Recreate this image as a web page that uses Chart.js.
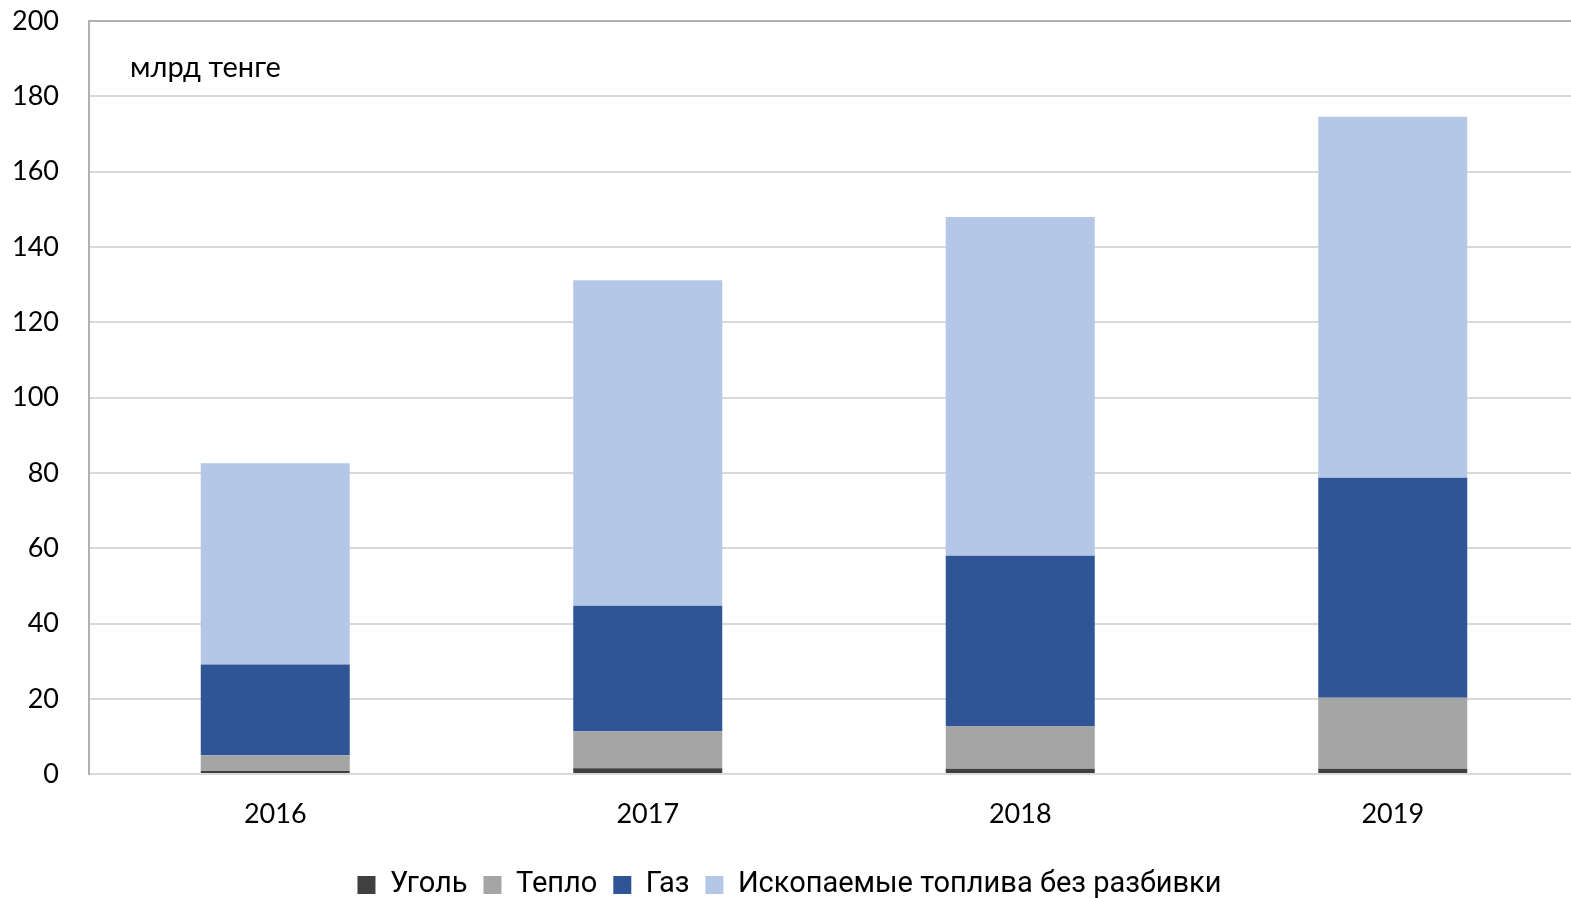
<!DOCTYPE html>
<html>
<head>
<meta charset="utf-8">
<script src="https://cdn.jsdelivr.net/npm/chart.js@4.4.1/dist/chart.umd.min.js"></script>
<style>
  html, body { margin:0; padding:0; background:#fff; overflow:hidden; }
  #wrap { position:relative; width:1582px; height:934.5px; margin-top:-25.5px; }
</style>
</head>
<body>
<div id="wrap"><canvas id="chart"></canvas></div>
<script>
// ---- data ----
const years      = ['2016','2017','2018','2019'];
const coal       = [0.85, 1.55, 1.4, 1.4];
const heat       = [4.15, 9.85, 11.4, 18.9];
const gas        = [24.1, 33.3, 45.2, 58.4];
const fossilOther= [53.5, 86.5, 90.0, 95.9];
const unitLabel  = 'млрд тенге';

const FONT = "Roboto, 'Open Sans', sans-serif";
const TICKFONT = "Lato, 'Open Sans', sans-serif";

// unit caption inside the plot area
const unitPlugin = {
  id: 'unit',
  afterDraw(chart){
    const {ctx, chartArea} = chart;
    ctx.save();
    ctx.font = "29px " + TICKFONT;
    ctx.fillStyle = '#000';
    ctx.textBaseline = 'middle';
    ctx.fillText(unitLabel, chartArea.left + 41, chartArea.top + 46);
    ctx.restore();
  }
};

const ds = (label, data, color) => ({
  label, data, backgroundColor: color, borderWidth: 0,
  barPercentage: 0.4, categoryPercentage: 1
});

new Chart(document.getElementById('chart'), {
  type: 'bar',
  data: {
    labels: years,
    datasets: [
      ds('Уголь', coal, '#404040'),
      ds('Тепло', heat, '#a5a5a5'),
      ds('Газ', gas, '#2f5597'),
      ds('Ископаемые топлива без разбивки', fossilOther, '#b4c7e7')
    ]
  },
  options: {
    responsive: true, maintainAspectRatio: false, animation: false,
    layout: { padding: { top: 0, right: 3, bottom: 0, left: 0 } },
    plugins: {
      legend: {
        position: 'bottom',
        labels: { color:'#000', font:{ family: FONT, size: 29 }, boxWidth: 18, boxHeight: 18, padding: 16 }
      },
      tooltip: { enabled: false }
    },
    scales: {
      x: {
        stacked: true,
        grid: { display: false, drawTicks: false },
        border: { color: '#d9d9d9', width: 2 },
        ticks: { color:'#000', font:{ family: TICKFONT, size: 27 }, padding: 24 }
      },
      y: {
        stacked: true, min: 0, max: 200,
        afterFit: (axis) => { axis.width = 89; },
        grid: {
          color: (c) => c.tick && c.tick.value === 200 ? '#b0b0b0' : '#d9d9d9',
          lineWidth: 2, drawTicks: false
        },
        border: { color: '#b0b0b0', width: 2 },
        ticks: { stepSize: 20, color:'#000', font:{ family: TICKFONT, size: 27 }, padding: 30 }
      }
    }
  },
  plugins: [unitPlugin]
});
</script>
</body>
</html>
